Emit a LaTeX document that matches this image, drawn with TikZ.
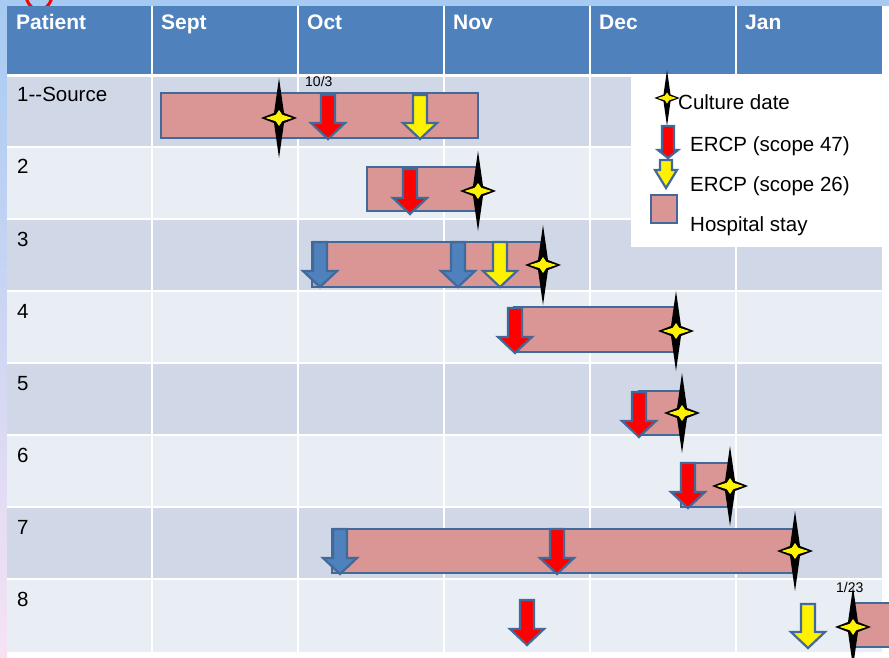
\documentclass[tikz,border=0pt]{standalone}
\usepackage{fontspec}
\setmainfont{Liberation Sans}

\definecolor{headblue}{HTML}{4F81BD}
\definecolor{rowdark}{HTML}{D0D8E8}
\definecolor{rowlight}{HTML}{E9EDF4}
\definecolor{staypink}{HTML}{D99694}
\definecolor{edgeblue}{HTML}{41699A}
\definecolor{slideblue}{HTML}{A6CAF2}
\definecolor{slidepink}{HTML}{F6E2F4}

\tikzset{
  head/.style={anchor=base west,inner sep=0pt,text=white,font=\fontsize{21}{25}\selectfont\bfseries},
  cell/.style={anchor=base west,inner sep=0pt,font=\fontsize{20.5}{24}\selectfont},
  datelabel/.style={anchor=base west,inner sep=0pt,font=\fontsize{14}{16}\selectfont},
  stay/.style={draw=edgeblue,line width=2.6pt,fill=staypink},
  ercp/.style={draw=edgeblue,line width=2.2pt,line join=miter},
}

% down arrow for an ERCP: centre x, top, tip, fill colour
\newcommand{\ercparrow}[4]{%
  \path[ercp,fill=#4] (#1-7,#2) -- (#1+7,#2) -- (#1+7,#3-16) -- (#1+17,#3-16)
    -- (#1,#3) -- (#1-17,#3-16) -- (#1-7,#3-16) -- cycle;}

% four pointed star for a culture date: x, y, scale
\newcommand{\culturestar}[3]{%
  \begin{scope}[shift={(#1,#2)},scale=#3]
    \fill[black] (0,-40) -- (5,-5) -- (18,0) -- (5,5)
      -- (0,40) -- (-5,5) -- (-18,0) -- (-5,-5) -- cycle;
    \fill[yellow] (0,-8) -- (3.2,-3.2) -- (13.5,0) -- (3.2,3.2)
      -- (0,8) -- (-3.2,3.2) -- (-13.5,0) -- (-3.2,-3.2) -- cycle;
  \end{scope}}

\begin{document}
\begin{tikzpicture}[x=1pt,y=-1pt]
\useasboundingbox (0,0) rectangle (889,658);
\clip (0,0) rectangle (889,658);

% slide behind the table
\fill[white] (0,0) rectangle (889,658);
\shade[top color=slideblue,bottom color=slidepink] (0,0) rectangle (7,658);
\fill[slideblue] (0,0) rectangle (889,6);
\draw[red,line width=3pt] (39,-10) ellipse [x radius=14pt,y radius=20pt];

% table
\fill[headblue] (7,6) rectangle (882,75);
\foreach \r/\lab in {1/1-{}-Source,2/2,3/3,4/4,5/5,6/6,7/7,8/8}{
  \pgfmathsetmacro\rowtop{76+72*(\r-1)}
  \pgfmathtruncatemacro\odd{mod(\r,2)}
  \ifnum\odd=1 \def\rowcol{rowdark}\else\def\rowcol{rowlight}\fi
  \fill[\rowcol] (7,\rowtop) rectangle (882,\rowtop+72);
  \node[cell] (p\r) at (17,\rowtop+26) {\lab};
}
\foreach \x in {152,298,444,590,736}
  \draw[white,line width=1.5pt] (\x,6) -- (\x,652);
\foreach \y in {147,219,291,363,435,507,579}
  \draw[white,line width=1.5pt] (7,\y) -- (882,\y);
\draw[white,line width=2.5pt] (7,75.5) -- (882,75.5);
\foreach \x/\m in {7/Patient,152/Sept,298/Oct,444/Nov,590/Dec,736/Jan}
  \node[head] (h\m) at (\x+9,30) {\m};

% hospital stays
\draw[stay] (161,93) rectangle (478,138);
\draw[stay] (367,167) rectangle (478,211);
\draw[stay] (312,242) rectangle (543,287);
\draw[stay] (514,307) rectangle (677,352);
\draw[stay] (639,391) rectangle (682,435);
\draw[stay] (681,463) rectangle (730,507);
\draw[stay] (332,529) rectangle (795,573);
\draw[stay] (853,603) rectangle (900,647);

% ERCPs
\ercparrow{328}{95}{139}{red}
\ercparrow{420}{95}{139}{yellow}
\ercparrow{410}{169}{214}{red}
\ercparrow{320}{242}{287}{headblue}
\ercparrow{458}{242}{287}{headblue}
\ercparrow{500}{242}{287}{yellow}
\ercparrow{515}{308}{353}{red}
\ercparrow{639}{392}{437}{red}
\ercparrow{688}{463}{508}{red}
\ercparrow{340}{529}{574}{headblue}
\ercparrow{557}{529}{574}{red}
\ercparrow{527}{600}{645}{red}
\ercparrow{808}{604}{648}{yellow}

% culture dates
\culturestar{279}{118}{1}
\culturestar{478}{191}{1}
\culturestar{543}{265}{1}
\culturestar{676}{331}{1}
\culturestar{682}{413}{1}
\culturestar{730}{486}{1}
\culturestar{795}{551}{1}
\culturestar{853}{627}{1}

\node[datelabel] (d103) at (305,87) {10/3};
\node[datelabel] (d123) at (836,592) {1/23};

% legend
\fill[white] (631,76) rectangle (883,247);
\culturestar{667}{98}{0.7}
\path[ercp,fill=red] (662,126) -- (674,126) -- (674,150) -- (678,150) -- (668,158)
  -- (658,150) -- (662,150) -- cycle;
\path[ercp,fill=yellow] (660,160) -- (672,160) -- (672,170) -- (677,170) -- (666,188)
  -- (655,170) -- (660,170) -- cycle;
\draw[stay] (651,195) rectangle (677,223);
\node[cell] (kculture) at (678,110) {Culture date};
\node[cell] (k47) at (690,152) {ERCP (scope 47)};
\node[cell] (k26) at (690,191) {ERCP (scope 26)};
\node[cell] (kstay) at (690,231) {Hospital stay};
\end{tikzpicture}
\end{document}
